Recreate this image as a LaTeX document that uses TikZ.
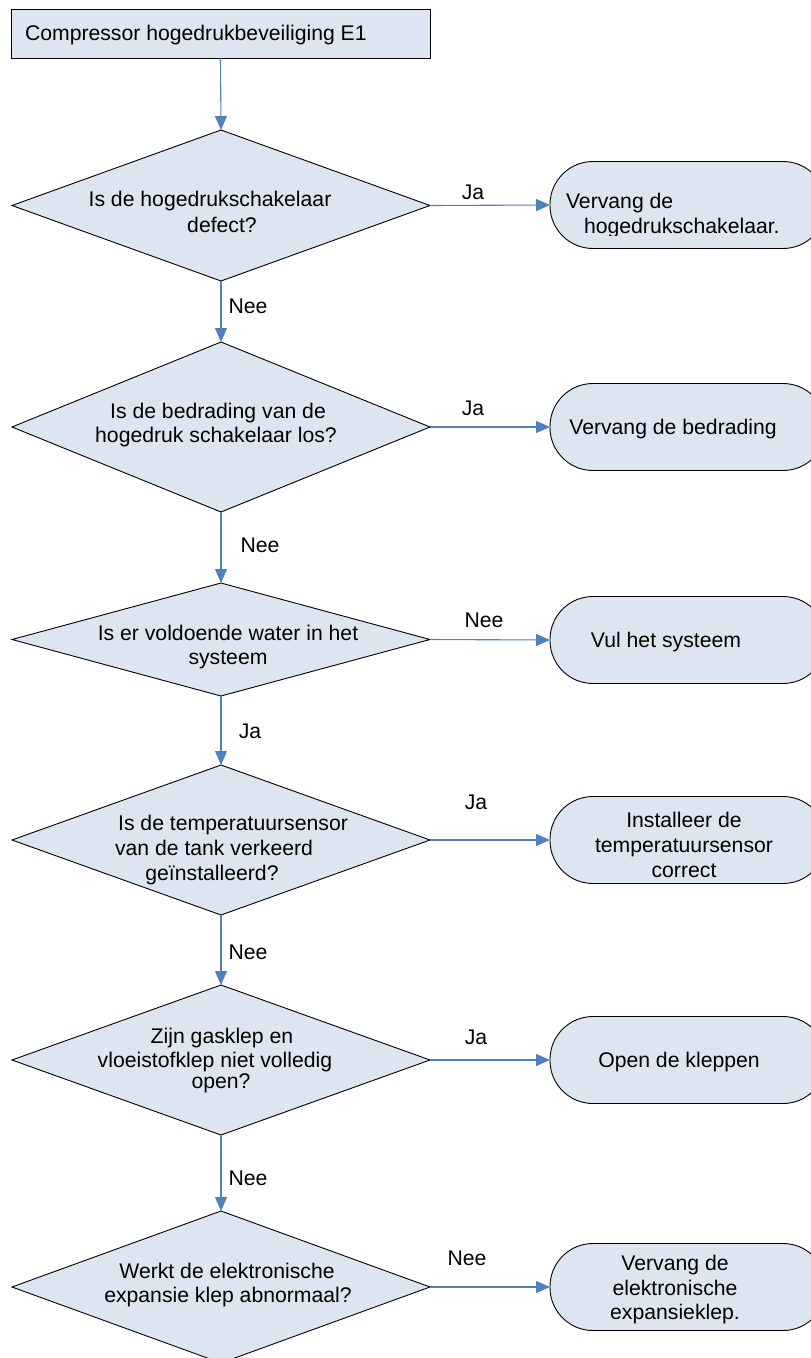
\documentclass[tikz,border=0pt]{standalone}
\usepackage{fontspec}
\setmainfont{Liberation Sans}
\usetikzlibrary{shapes.geometric,arrows.meta}
\definecolor{boxfill}{RGB}{221,229,241}
\definecolor{linkblue}{RGB}{79,129,189}
\begin{document}
\begin{tikzpicture}[x=1pt,y=-1pt,
  every node/.style={font=\fontsize{21.2}{24.5}\selectfont, inner sep=0pt, outer sep=0pt},
  startbox/.style={draw=black, fill=boxfill, line width=0.9pt, minimum width=419pt, minimum height=49pt},
  decision/.style={diamond, draw=black, fill=boxfill, line width=0.9pt, minimum width=418pt, minimum height=#1},
  endbox/.style={draw=black, fill=boxfill, line width=0.9pt, rounded corners=43pt, minimum width=276pt, minimum height=87pt},
  txt/.style={anchor=base},
  ltxt/.style={anchor=base west},
  link/.style={draw=linkblue, line width=1.1pt, -{Triangle[length=14pt,width=12pt]}}
]
\useasboundingbox (0,0) rectangle (811,1358);

% start box
\node[startbox] (start) at (220.5,33.5) {};
\node[ltxt] (tstart) at (25,40) {Compressor hogedrukbeveiliging E1};

% decisions
\node[decision=151pt] (d1) at (221,205.5) {};
\node[decision=170pt] (d2) at (221,427) {};
\node[decision=113pt] (d3) at (221,639.5) {};
\node[decision=150pt] (d4) at (221,840) {};
\node[decision=150pt] (d5) at (221,1060) {};
\node[decision=152pt] (d6) at (221,1287) {};

% end boxes
\node[endbox] (r1) at (688,205) {};
\node[endbox] (r2) at (688,427) {};
\node[endbox] (r3) at (688,640) {};
\node[endbox] (r4) at (688,840) {};
\node[endbox] (r5) at (688,1060) {};
\node[endbox] (r6) at (688,1287) {};

% decision texts
\node[txt] (t1a) at (210,206) {Is de hogedrukschakelaar};
\node[txt] (t1b) at (222,232) {defect?};
\node[txt] (t2a) at (218,418.5) {Is de bedrading van de};
\node[txt] (t2b) at (216,442.5) {hogedruk schakelaar los?};
\node[txt] (t3a) at (228,640.5) {Is er voldoende water in het};
\node[txt] (t3b) at (228,664) {systeem};
\node[txt] (t4a) at (233,830.5) {Is de temperatuursensor};
\node[txt] (t4b) at (214,855.5) {van de tank verkeerd};
\node[txt] (t4c) at (212,880.5) {geïnstalleerd?};
\node[txt] (t5a) at (222,1043) {Zijn gasklep en};
\node[txt] (t5b) at (215,1067) {vloeistofklep niet volledig};
\node[txt] (t5c) at (221,1088) {open?};
\node[txt] (t6a) at (227,1278.5) {Werkt de elektronische};
\node[txt] (t6b) at (228,1302.5) {expansie klep abnormaal?};

% end box texts
\begin{scope}
\clip (540,150) rectangle (811,235.5);
\node[ltxt] (r1a) at (566,208) {Vervang de};
\node[ltxt] (r1b) at (584,233) {hogedrukschakelaar.};
\end{scope}
\node[txt] (r2a) at (673,434.5) {Vervang de bedrading};
\node[txt] (r3a) at (666,647.5) {Vul het systeem};
\node[txt] (r4a) at (684,827.5) {Installeer de};
\node[txt] (r4b) at (684,852.5) {temperatuursensor};
\node[txt] (r4c) at (684,877.5) {correct};
\node[txt] (r5a) at (679,1067.5) {Open de kleppen};
\node[txt] (r6a) at (675,1270) {Vervang de};
\node[txt] (r6b) at (675,1295) {elektronische};
\node[txt] (r6c) at (675,1319) {expansieklep.};

% connectors
\draw[link] (start.south) -- (d1.north);
\draw[link] (d1.south) -- (d2.north);
\draw[link] (d2.south) -- (d3.north);
\draw[link] (d3.south) -- (d4.north);
\draw[link] (d4.south) -- (d5.north);
\draw[link] (d5.south) -- (d6.north);
\draw[link] (d1.east) -- (r1.west);
\draw[link] (d2.east) -- (r2.west);
\draw[link] (d3.east) -- (r3.west);
\draw[link] (d4.east) -- (r4.west);
\draw[link] (d5.east) -- (r5.west);
\draw[link] (d6.east) -- (r6.west);

% connector labels
\node[txt] (l1) at (473,199.5) {Ja};
\node[txt] (l2) at (248,313.5) {Nee};
\node[txt] (l3) at (473,415.5) {Ja};
\node[txt] (l4) at (260,552.5) {Nee};
\node[txt] (l5) at (484,627.5) {Nee};
\node[txt] (l6) at (250,738.5) {Ja};
\node[txt] (l7) at (476,809.5) {Ja};
\node[txt] (l8) at (248,959.5) {Nee};
\node[txt] (l9) at (476,1044.5) {Ja};
\node[txt] (l10) at (248,1185.5) {Nee};
\node[txt] (l11) at (467,1265.5) {Nee};
\end{tikzpicture}
\end{document}
